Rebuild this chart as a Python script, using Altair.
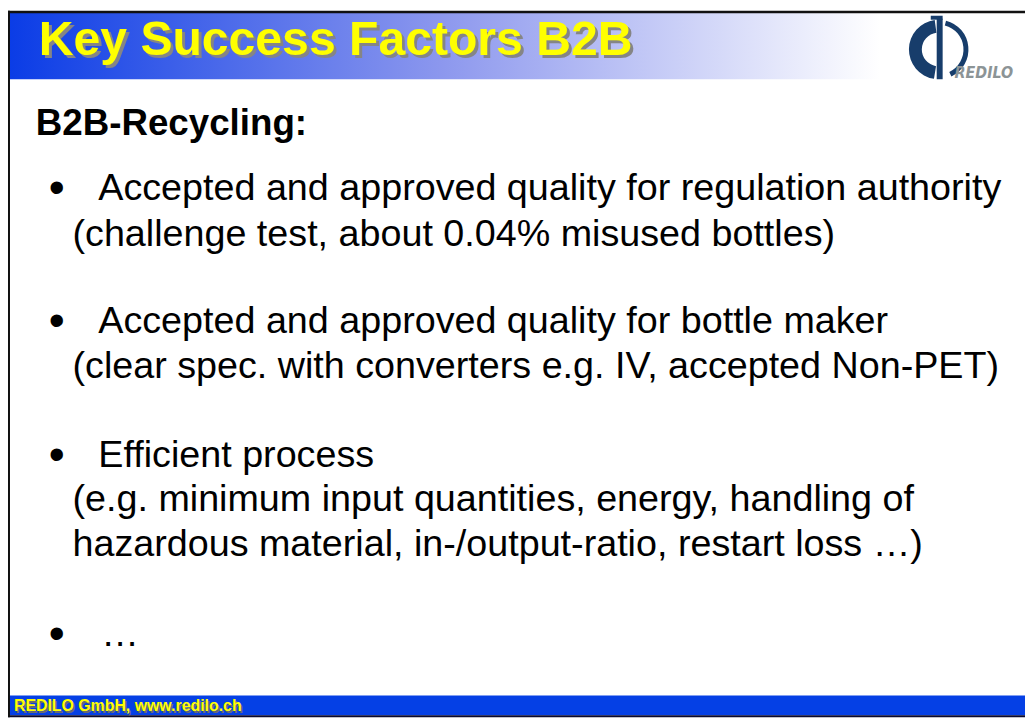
import altair as alt
import pandas as pd

# ---- slide content -------------------------------------------------------
TITLE = "Key Success Factors B2B"
HEADING = "B2B-Recycling:"
FOOTER = "REDILO GmbH, www.redilo.ch"
LOGO_WORD = "REDILO"

BODY_TEXT = [
    "Accepted and approved quality for regulation authority",
    "(challenge test, about 0.04% misused bottles)",
    "Accepted and approved quality for bottle maker",
    "(clear spec. with converters e.g. IV, accepted Non-PET)",
    "Efficient process",
    "(e.g. minimum input quantities, energy, handling of",
    "hazardous material, in-/output-ratio, restart loss \u2026)",
    "\u2026",
]
BULLET_OF_LINE = [True, False, True, False, True, False, False, True]

# ---- layout (reference pixel coordinates) --------------------------------
X0, Y0 = 8, 8            # page margin offset of the chart
W, H = 1025, 712
BODY_X = [99, 73, 99, 73, 99, 73, 73, 102]
BODY_BASE = [199, 245, 333, 378, 468, 512, 558, 648]
BULLET_X = 49

xs = alt.Scale(domain=[X0, X0 + W], range=[0, W], nice=False, zero=False)
ys = alt.Scale(domain=[Y0, Y0 + H], range=[0, H], nice=False, zero=False)


def X(f="x"):
    return alt.X(f"{f}:Q", scale=xs, axis=None)


def Y(f="y"):
    return alt.Y(f"{f}:Q", scale=ys, axis=None)


def rect_layer(rows, **mk):
    return alt.Chart(pd.DataFrame(rows)).mark_rect(**mk).encode(
        x=X("x"), x2="x2:Q", y=Y("y"), y2="y2:Q"
    )


def text_layer(rows, **mk):
    return alt.Chart(pd.DataFrame(rows)).mark_text(
        align="left", baseline="alphabetic", **mk
    ).encode(x=X("x"), y=Y("y"), text="t:N")


# title bar gradient
grad = alt.LinearGradient(
    gradient="linear",
    stops=[alt.GradientStop(color="#0a3ce6", offset=0),
           alt.GradientStop(color="#8d98ee", offset=0.5),
           alt.GradientStop(color="#ffffff", offset=1)],
    x1=0, x2=1, y1=0, y2=0,
)
title_bar = rect_layer([{"x": 8, "x2": 887, "y": 10, "y2": 77}], color=grad)

# footer bar
footer_bar = rect_layer([{"x": 8, "x2": 1033, "y": 698, "y2": 718}], color="#0540e5")
bottom_line = rect_layer([{"x": 8, "x2": 1033, "y": 718, "y2": 720}], color="#0a0a30")

# frame lines
top_line = rect_layer([{"x": 8, "x2": 1033, "y": 8, "y2": 10.5}], color="#111111")
left_line = rect_layer([{"x": 8, "x2": 10, "y": 8, "y2": 720}], color="#111111")

# title with shadow
title_shadow = text_layer([{"x": 42, "y": 56, "t": TITLE}], font="Liberation Sans",
                          fontWeight="bold", fontSize=48.5, color="#858585")
title_txt = text_layer([{"x": 39, "y": 53, "t": TITLE}], font="Liberation Sans",
                       fontWeight="bold", fontSize=48.5, color="#ffff00")

# logo
logo_ring_l = alt.Chart(pd.DataFrame([{"x": 946, "y": 47}])).mark_arc(
    radius=30, radius2=17, theta=3.3, theta2=6.15, color="#173d6b"
).encode(x=X("x"), y=Y("y"))
logo_ring_r = alt.Chart(pd.DataFrame([{"x": 946, "y": 47}])).mark_arc(
    radius=30, radius2=25, theta=0.25, theta2=2.7, color="#173d6b"
).encode(x=X("x"), y=Y("y"))
logo_stem = rect_layer([{"x": 944, "x2": 950, "y": 16, "y2": 77},
                        {"x": 938, "x2": 950, "y": 13, "y2": 17}], color="#173d6b")
logo_word = text_layer([{"x": 962, "y": 76, "t": LOGO_WORD}],
                       font="DejaVu Sans Condensed",
                       fontWeight="bold", fontStyle="italic", fontSize=16,
                       color="#8c9496")

# heading and body
heading = text_layer([{"x": 36, "y": 133, "t": HEADING}], font="Liberation Sans",
                     fontWeight="bold", fontSize=37, color="#000000")
body = text_layer(
    [{"x": bx, "y": by, "t": t} for t, bx, by in zip(BODY_TEXT, BODY_X, BODY_BASE)],
    font="Liberation Sans", fontSize=38, color="#000000",
)
bullets = text_layer(
    [{"x": BULLET_X, "y": by + 3, "t": "\u2022"}
     for b, by in zip(BULLET_OF_LINE, BODY_BASE) if b],
    font="Liberation Sans", fontSize=46, color="#000000",
)

# footer text with shadow
footer_shadow = text_layer([{"x": 15.5, "y": 715.5, "t": FOOTER}], font="Liberation Sans",
                           fontWeight="bold", fontSize=16, color="#6b6b6b")
footer_txt = text_layer([{"x": 14, "y": 714, "t": FOOTER}], font="Liberation Sans",
                        fontWeight="bold", fontSize=16, color="#ffff00")

chart = alt.layer(
    title_bar, footer_bar, bottom_line, top_line, left_line,
    title_shadow, title_txt,
    logo_ring_l, logo_ring_r, logo_stem, logo_word,
    heading, bullets, body,
    footer_shadow, footer_txt,
).properties(
    width=W, height=H, padding=0,
    autosize=alt.AutoSizeParams(type="none"),
    background="#ffffff",
).configure_view(stroke=None)

chart.save("out.html", embed_options={"renderer": "svg", "actions": False})
